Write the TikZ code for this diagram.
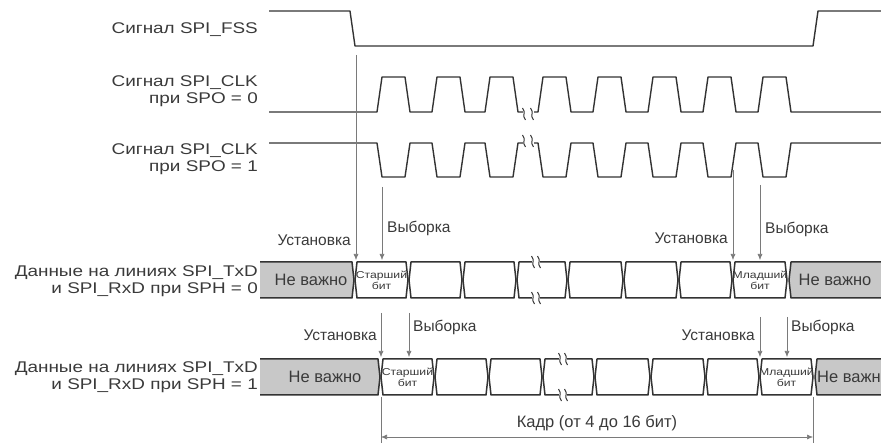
\documentclass[tikz,border=0pt]{standalone}
\usepackage{fontspec}
\setmainfont{Liberation Sans}
\newfontfamily\lblfont[FakeStretch=1.22]{Liberation Sans}
\usetikzlibrary{arrows.meta}
\definecolor{wavec}{HTML}{333333}
\definecolor{guidec}{HTML}{7A7A7A}
\definecolor{txtc}{HTML}{3A3A3A}
\definecolor{dcfill}{HTML}{C8C8C8}
\newcommand{\bcell}[4]{% from, to, mid y, fill
  \path[busline,fill=#4] (#1,#3) -- (#1+2,#3-18) -- (#2-2,#3-18) -- (#2,#3) -- (#2-2,#3+18) -- (#1+2,#3+18) -- cycle;}
\newcommand{\bsquig}[3]{% x, y, dir
  \draw[wave,line width=1pt] (#1-1.5,#2-6*#3) .. controls (#1+2.5,#2-1*#3) and (#1-2.5,#2+1*#3) .. (#1+1.5,#2+6*#3);}
\newcommand{\busbreak}[2]{% x, mid y
  \fill[white] (#1-4,#2-21) rectangle (#1+4,#2-15);
  \fill[white] (#1-4,#2+15) rectangle (#1+4,#2+21);
  \bsquig{#1-3}{#2-18}{1}\bsquig{#1+3}{#2-18}{1}
  \bsquig{#1-3}{#2+18}{1}\bsquig{#1+3}{#2+18}{1}}
\begin{document}
\begin{tikzpicture}[x=1pt,y=-1pt,
  wave/.style={draw=wavec,line width=1.4pt,line join=round},
  busline/.style={draw=wavec,line width=1.5pt,line join=round},
  guide/.style={draw=guidec,line width=0.6pt},
  guidearr/.style={guide,-{Latex[length=6pt,width=5pt]}},
  lbl/.style={font=\lblfont\fontsize{15.5}{17.5}\selectfont,text=txtc,align=right,anchor=east,inner sep=0pt},
  edgelbl/.style={font=\fontsize{15.5}{17}\selectfont,text=txtc,inner sep=0pt},
  dclbl/.style={font=\fontsize{16.5}{18}\selectfont,text=txtc,inner sep=0pt},
  bitlbl/.style={font=\lblfont\fontsize{10}{11}\selectfont,text=txtc,align=center,inner sep=0pt}]
\useasboundingbox (0,0) rectangle (881,443);
\begin{scope}
\clip (0,0) rectangle (881,443);

% ---- labels
\node[lbl] (lfss) at (258,30) {Сигнал SPI\_FSS};
\node[lbl] (lclk0) at (258,91) {Сигнал SPI\_CLK\\при SPO = 0};
\node[lbl] (lclk1) at (258,159) {Сигнал SPI\_CLK\\при SPO = 1};
\node[lbl] (ld0) at (258,281) {Данные на линиях SPI\_TxD\\и SPI\_RxD при SPH = 0};
\node[lbl] (ld1) at (258,377) {Данные на линиях SPI\_TxD\\и SPI\_RxD при SPH = 1};

% ---- FSS
\draw[wave] (269,11) -- (350,11) -- (355,46) -- (813,46) -- (818,11) -- (881,11);

% ---- CLK SPO=0
\draw[wave] (269,112) foreach \r in {377,432,485} { -- (\r,112) -- (\r+5,77) -- (\r+28,77) -- (\r+33,112) } -- (523,112);
\draw[wave] (534,112) foreach \r in {538,593,648,703,758} { -- (\r,112) -- (\r+5,77) -- (\r+28,77) -- (\r+33,112) } -- (881,112);
\bsquig{524}{114}{1}\bsquig{532}{114}{1}

% ---- CLK SPO=1
\draw[wave] (269,143) foreach \r in {377,432,485} { -- (\r,143) -- (\r+5,177) -- (\r+28,177) -- (\r+33,143) } -- (523,143);
\draw[wave] (534,143) foreach \r in {538,593,648,703,758} { -- (\r,143) -- (\r+5,177) -- (\r+28,177) -- (\r+33,143) } -- (881,143);
\bsquig{524}{141}{1}\bsquig{532}{141}{1}

% ---- data row SPH=0 (mid 280)
\path[fill=dcfill] (260,262) rectangle (353,298);
\draw[busline] (260,262) -- (352,262) -- (354,280) -- (352,298) -- (260,298);
\foreach \a/\b in {355/408,409/462,463/516,517/567,568/623,624/678,679/732,733/787} {\bcell{\a}{\b}{280}{white}}
\path[fill=dcfill] (789,280) -- (791,262) -- (890,262) -- (890,298) -- (791,298) -- cycle;
\draw[busline] (890,262) -- (791,262) -- (789,280) -- (791,298) -- (890,298);
\busbreak{536}{280}
\node[dclbl] (dc0a) at (311,280) {Не важно};
\node[dclbl] (dc0b) at (835,280) {Не важно};
\node[bitlbl] (msb0) at (381.5,280) {Старший\\бит};
\node[bitlbl] (lsb0) at (760,280) {Младший\\бит};

% ---- data row SPH=1 (mid 377)
\path[fill=dcfill] (260,359) rectangle (379,395);
\draw[busline] (260,359) -- (378,359) -- (380,377) -- (378,395) -- (260,395);
\foreach \a/\b in {381/434,435/488,489/542,543/594,595/650,651/705,706/759,760/813} {\bcell{\a}{\b}{377}{white}}
\path[fill=dcfill] (815,377) -- (817,359) -- (890,359) -- (890,395) -- (817,395) -- cycle;
\draw[busline] (890,359) -- (817,359) -- (815,377) -- (817,395) -- (890,395);
\busbreak{563}{377}
\node[dclbl] (dc1a) at (325,377) {Не важно};
\node[dclbl,anchor=west] (dc1b) at (817,377) {Не важно};
\node[bitlbl] (msb1) at (407.5,377) {Старший\\бит};
\node[bitlbl] (lsb1) at (786.5,377) {Младший\\бит};

% ---- guide lines with arrows
\coordinate (g1s) at (356,55);  \coordinate (g1e) at (356,260);
\coordinate (g2s) at (382,187); \coordinate (g2e) at (382,260);
\coordinate (g3s) at (733,170); \coordinate (g3e) at (733,260);
\coordinate (g4s) at (760,185); \coordinate (g4e) at (760,260);
\coordinate (h1s) at (381,313); \coordinate (h1e) at (381,357);
\coordinate (h2s) at (409,313); \coordinate (h2e) at (409,357);
\coordinate (h3s) at (760,317); \coordinate (h3e) at (760,357);
\coordinate (h4s) at (787,317); \coordinate (h4e) at (787,357);
\foreach \n in {g1,g2,g3,g4,h1,h2,h3,h4} {\draw[guidearr] (\n s) -- (\n e);}

\node[edgelbl,anchor=east] (u1) at (351,240) {Установка};
\node[edgelbl,anchor=west] (v1) at (387,228) {Выборка};
\node[edgelbl,anchor=east] (u2) at (728,238) {Установка};
\node[edgelbl,anchor=west] (v2) at (765,229) {Выборка};
\node[edgelbl,anchor=east] (u3) at (377,335) {Установка};
\node[edgelbl,anchor=west] (v3) at (413,327) {Выборка};
\node[edgelbl,anchor=east] (u4) at (755,335) {Установка};
\node[edgelbl,anchor=west] (v4) at (791,327) {Выборка};

% ---- frame dimension
\coordinate (f1t) at (381,397); \coordinate (f1b) at (381,443);
\coordinate (f2t) at (813,397); \coordinate (f2b) at (813,443);
\draw[guide] (f1t) -- (f1b);
\draw[guide] (f2t) -- (f2b);
\coordinate (fa) at (381,437); \coordinate (fb) at (813,437);
\draw[guide,{Latex[length=6pt,width=5pt]}-{Latex[length=6pt,width=5pt]}] (fa) -- (fb);
\node[edgelbl,font=\fontsize{16.5}{18}\selectfont] (kadr) at (597,423) {Кадр (от 4 до 16 бит)};
\end{scope}
\end{tikzpicture}
\end{document}
